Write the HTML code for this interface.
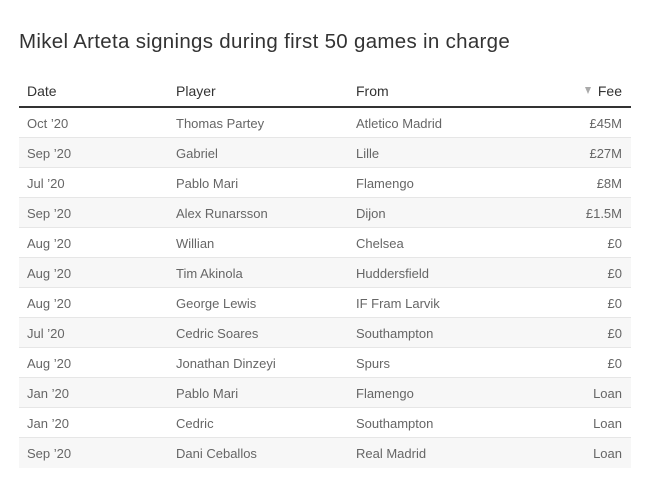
<!DOCTYPE html>
<html>
<head>
<meta charset="utf-8">
<style>
  html,body{margin:0;padding:0;background:#fff;}
  body{width:657px;height:484px;position:relative;overflow:hidden;font-family:"Liberation Sans",sans-serif;}
  .title{position:absolute;left:19px;top:30px;font-size:20.5px;color:#333;white-space:nowrap;letter-spacing:0.3px;}
  .hdr{position:absolute;left:19px;top:76px;width:612px;height:30px;border-bottom:2px solid #333;}
  .hdr span{position:absolute;top:7px;font-size:14px;color:#333;}
  .tri{position:absolute;left:585px;top:87px;width:0;height:0;border-left:3.5px solid transparent;border-right:3.5px solid transparent;border-top:7px solid #aaa;}
  .row{position:absolute;left:19px;width:612px;height:30px;border-bottom:1px solid #e6e6e6;box-sizing:border-box;}
  .row.s{background:#f7f7f7;}
  .row span{position:absolute;top:8px;font-size:13px;color:#666;white-space:nowrap;}
  .c1{left:8px;} .c2{left:157px;} .c3{left:337px;} .c4{right:9px;}
</style>
</head>
<body>
<div class="title">Mikel Arteta signings during first 50 games in charge</div>
<div class="hdr"><span class="c1">Date</span><span class="c2">Player</span><span class="c3">From</span><span class="c4">Fee</span></div>
<div class="tri"></div>

<div class="row" style="top:108px"><span class="c1">Oct ’20</span><span class="c2">Thomas Partey</span><span class="c3">Atletico Madrid</span><span class="c4">£45M</span></div>
<div class="row s" style="top:138px"><span class="c1">Sep ’20</span><span class="c2">Gabriel</span><span class="c3">Lille</span><span class="c4">£27M</span></div>
<div class="row" style="top:168px"><span class="c1">Jul ’20</span><span class="c2">Pablo Mari</span><span class="c3">Flamengo</span><span class="c4">£8M</span></div>
<div class="row s" style="top:198px"><span class="c1">Sep ’20</span><span class="c2">Alex Runarsson</span><span class="c3">Dijon</span><span class="c4">£1.5M</span></div>
<div class="row" style="top:228px"><span class="c1">Aug ’20</span><span class="c2">Willian</span><span class="c3">Chelsea</span><span class="c4">£0</span></div>
<div class="row s" style="top:258px"><span class="c1">Aug ’20</span><span class="c2">Tim Akinola</span><span class="c3">Huddersfield</span><span class="c4">£0</span></div>
<div class="row" style="top:288px"><span class="c1">Aug ’20</span><span class="c2">George Lewis</span><span class="c3">IF Fram Larvik</span><span class="c4">£0</span></div>
<div class="row s" style="top:318px"><span class="c1">Jul ’20</span><span class="c2">Cedric Soares</span><span class="c3">Southampton</span><span class="c4">£0</span></div>
<div class="row" style="top:348px"><span class="c1">Aug ’20</span><span class="c2">Jonathan Dinzeyi</span><span class="c3">Spurs</span><span class="c4">£0</span></div>
<div class="row s" style="top:378px"><span class="c1">Jan ’20</span><span class="c2">Pablo Mari</span><span class="c3">Flamengo</span><span class="c4">Loan</span></div>
<div class="row" style="top:408px"><span class="c1">Jan ’20</span><span class="c2">Cedric</span><span class="c3">Southampton</span><span class="c4">Loan</span></div>
<div class="row s" style="top:438px;border-bottom:none"><span class="c1">Sep ’20</span><span class="c2">Dani Ceballos</span><span class="c3">Real Madrid</span><span class="c4">Loan</span></div>
</body>
</html>
